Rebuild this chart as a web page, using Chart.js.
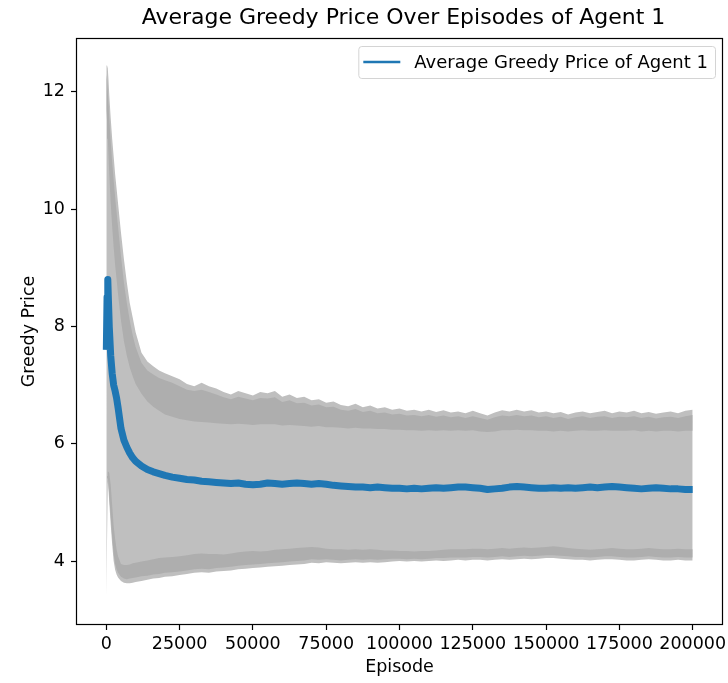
<!DOCTYPE html>
<html>
<head>
<meta charset="utf-8">
<title>Average Greedy Price Over Episodes of Agent 1</title>
<script src="https://cdn.jsdelivr.net/npm/chart.js@4.4.1/dist/chart.umd.min.js"></script>
<style>
  html, body { margin: 0; padding: 0; background: #fff; }
  canvas { display: block; }
</style>
</head>
<body>
<canvas id="priceChart" width="728" height="683"></canvas>
<script>
const episodes = [
  0, 250, 500, 750, 1000, 1500, 2000, 2500, 3000, 3500, 4000, 5000, 6000, 7000, 8000, 9000, 10000, 12000, 14000, 16000, 18000, 20000,
  22500, 25000, 27500, 30000, 32500, 35000, 37500, 40000,
  42500, 45000, 47500, 50000, 52500, 55000, 57500, 60000,
  62500, 65000, 67500, 70000, 72500, 75000, 77500, 80000,
  82500, 85000, 87500, 90000, 92500, 95000, 97500, 100000,
  102500, 105000, 107500, 110000, 112500, 115000, 117500, 120000,
  122500, 125000, 127500, 130000, 132500, 135000, 137500, 140000,
  142500, 145000, 147500, 150000, 152500, 155000, 157500, 160000,
  162500, 165000, 167500, 170000, 172500, 175000, 177500, 180000,
  182500, 185000, 187500, 190000, 192500, 195000, 197500, 200000
];

// average greedy price (blue line)
const meanPrice = [
  7.6, 8.5, 8.8, 8.4, 8.0, 7.5, 7.2, 7.0, 6.9, 6.78, 6.62, 6.26, 6.06, 5.94, 5.84, 5.76, 5.7, 5.62, 5.56, 5.52, 5.49, 5.46,
  5.43, 5.41, 5.39, 5.38, 5.36, 5.35, 5.34, 5.33,
  5.32, 5.33, 5.31, 5.30, 5.31, 5.33, 5.32, 5.31,
  5.32, 5.33, 5.32, 5.31, 5.32, 5.31, 5.29, 5.28,
  5.27, 5.26, 5.26, 5.25, 5.26, 5.25, 5.24, 5.24,
  5.23, 5.24, 5.23, 5.24, 5.25, 5.24, 5.25, 5.26,
  5.26, 5.25, 5.24, 5.22, 5.23, 5.24, 5.26, 5.27,
  5.26, 5.25, 5.24, 5.24, 5.25, 5.24, 5.25, 5.24,
  5.25, 5.26, 5.25, 5.26, 5.27, 5.26, 5.25, 5.24,
  5.23, 5.24, 5.25, 5.24, 5.23, 5.23, 5.22, 5.22
];

// shaded spread: outer edge, dark edge stripe, inner edge
const upperOuter = [
  12.45, 12.45, 12.4, 12.2, 11.95, 11.55, 11.2, 10.9, 10.6, 10.35, 10.1, 9.6, 9.15, 8.75, 8.4, 8.15, 7.9, 7.55, 7.4, 7.32, 7.25, 7.2,
  7.15, 7.1, 7.02, 6.98, 7.04, 6.98, 6.94, 6.88,
  6.84, 6.9, 6.86, 6.82, 6.88, 6.86, 6.9, 6.8,
  6.84, 6.78, 6.8, 6.74, 6.76, 6.7, 6.72, 6.66,
  6.64, 6.68, 6.62, 6.65, 6.6, 6.62, 6.58, 6.6,
  6.56, 6.58, 6.55, 6.58, 6.54, 6.57, 6.53, 6.55,
  6.52, 6.56, 6.52, 6.48, 6.53, 6.57, 6.55, 6.58,
  6.55, 6.57, 6.53, 6.55, 6.52, 6.54, 6.5, 6.53,
  6.55, 6.52, 6.54, 6.56, 6.52, 6.55, 6.53, 6.56,
  6.52, 6.54, 6.51, 6.53, 6.55, 6.52, 6.56, 6.58
];
const upperDarkTop = [
  12.3, 12.2, 12.0, 11.8, 11.55, 11.15, 10.8, 10.5, 10.2, 9.95, 9.7, 9.2, 8.75, 8.4, 8.1, 7.85, 7.65, 7.38, 7.25, 7.18, 7.12, 7.08,
  7.04, 6.98, 6.92, 6.9, 6.92, 6.88, 6.84, 6.79,
  6.76, 6.8, 6.77, 6.74, 6.78, 6.77, 6.79, 6.71,
  6.74, 6.69, 6.7, 6.65, 6.67, 6.62, 6.63, 6.58,
  6.56, 6.59, 6.54, 6.56, 6.52, 6.53, 6.5, 6.51,
  6.48, 6.49, 6.47, 6.49, 6.46, 6.48, 6.45, 6.47,
  6.44, 6.47, 6.44, 6.41, 6.45, 6.48, 6.47, 6.49,
  6.47, 6.48, 6.45, 6.47, 6.44, 6.46, 6.42, 6.45,
  6.47, 6.44, 6.46, 6.47, 6.44, 6.46, 6.45, 6.47,
  6.44, 6.46, 6.43, 6.45, 6.46, 6.44, 6.47, 6.49
];
const upperDarkBottom = [
  11.7, 11.5, 11.2, 10.9, 10.6, 10.1, 9.7, 9.35, 9.05, 8.8, 8.55, 8.1, 7.75, 7.5, 7.3, 7.15, 7.02, 6.85, 6.72, 6.63, 6.56, 6.5,
  6.46, 6.42, 6.4, 6.38, 6.37, 6.36, 6.35, 6.34,
  6.33, 6.34, 6.33, 6.32, 6.33, 6.33, 6.33, 6.31,
  6.32, 6.31, 6.3, 6.29, 6.3, 6.28, 6.28, 6.27,
  6.26, 6.27, 6.26, 6.26, 6.25, 6.25, 6.24, 6.24,
  6.23, 6.23, 6.22, 6.23, 6.22, 6.23, 6.22, 6.23,
  6.22, 6.23, 6.21, 6.2, 6.21, 6.23, 6.23, 6.24,
  6.23, 6.23, 6.22, 6.22, 6.21, 6.22, 6.21, 6.22,
  6.23, 6.22, 6.22, 6.23, 6.22, 6.22, 6.22, 6.23,
  6.21, 6.22, 6.21, 6.22, 6.22, 6.21, 6.22, 6.22
];
const lowerDarkTop = [
  3.5, 5.45, 5.52, 5.52, 5.5, 5.3, 4.95, 4.6, 4.38, 4.2, 4.08, 3.95, 3.93, 3.93, 3.94, 3.96, 3.97, 3.99, 4.01, 4.03, 4.05, 4.06,
  4.07, 4.08, 4.1, 4.12, 4.13, 4.12, 4.12, 4.11,
  4.13, 4.15, 4.16, 4.17, 4.16, 4.17, 4.19, 4.2,
  4.21, 4.22, 4.23, 4.24, 4.23, 4.21, 4.2, 4.2,
  4.19, 4.2, 4.19, 4.2, 4.19, 4.18, 4.18, 4.17,
  4.17, 4.16, 4.17, 4.17, 4.18, 4.19, 4.2, 4.2,
  4.2, 4.21, 4.21, 4.2, 4.21, 4.22, 4.21, 4.22,
  4.23, 4.22, 4.23, 4.24, 4.25, 4.24, 4.22, 4.21,
  4.2, 4.19, 4.2, 4.21, 4.22, 4.21, 4.2, 4.2,
  4.21, 4.22, 4.21, 4.2, 4.2, 4.21, 4.2, 4.2
];
const lowerDarkBottom = [
  3.45, 5.4, 5.42, 5.3, 5.1, 4.75, 4.4, 4.12, 3.95, 3.86, 3.8, 3.73, 3.7, 3.69, 3.7, 3.71, 3.72, 3.74, 3.75, 3.77, 3.78, 3.8,
  3.81, 3.82, 3.84, 3.86, 3.87, 3.86, 3.88, 3.89,
  3.9, 3.92, 3.93, 3.94, 3.95, 3.96, 3.97, 3.98,
  3.99, 4.0, 4.01, 4.03, 4.02, 4.03, 4.02, 4.01,
  4.02, 4.03, 4.02, 4.03, 4.02, 4.03, 4.04, 4.04,
  4.03, 4.04, 4.03, 4.04, 4.05, 4.05, 4.06, 4.06,
  4.06, 4.07, 4.07, 4.06, 4.07, 4.08, 4.07, 4.08,
  4.09, 4.08, 4.09, 4.1, 4.1, 4.09, 4.08, 4.07,
  4.07, 4.06, 4.07, 4.08, 4.08, 4.07, 4.06, 4.06,
  4.07, 4.08, 4.07, 4.06, 4.06, 4.07, 4.06, 4.06
];
const lowerOuter = [
  3.39, 5.35, 5.35, 5.2, 5.0, 4.62, 4.28, 4.0, 3.85, 3.77, 3.72, 3.66, 3.63, 3.62, 3.62, 3.63, 3.64, 3.66, 3.68, 3.7, 3.71, 3.73,
  3.74, 3.76, 3.78, 3.8, 3.81, 3.8, 3.82, 3.83,
  3.84, 3.86, 3.87, 3.88, 3.89, 3.9, 3.91, 3.92,
  3.93, 3.94, 3.95, 3.97, 3.96, 3.98, 3.97, 3.96,
  3.97, 3.98, 3.97, 3.98, 3.97, 3.98, 3.99, 4.0,
  3.99, 4.0, 3.99, 4.0, 4.01, 4.0, 4.01, 4.02,
  4.01, 4.02, 4.02, 4.01, 4.02, 4.03, 4.02, 4.03,
  4.04, 4.03, 4.04, 4.05, 4.05, 4.04, 4.03, 4.02,
  4.02, 4.01, 4.02, 4.03, 4.03, 4.02, 4.01, 4.01,
  4.02, 4.03, 4.02, 4.01, 4.01, 4.02, 4.01, 4.01
];

const xTicks = [0, 25000, 50000, 75000, 100000, 125000, 150000, 175000, 200000];
const yTicks = [4, 6, 8, 10, 12];

const FONT = 'DejaVu Sans';
const BLUE = '#1f77b4';
const BAND = '#bfbfbf';
const DARK = '#aeaeae';
const TITLE = 'Average Greedy Price Over Episodes of Agent 1';
const SERIES_LABEL = 'Average Greedy Price of Agent 1';

function toPoints(values) {
  return episodes.map((ep, i) => ({ x: ep, y: values[i] }));
}

function bandSet(values, fill, order) {
  return {
    data: toPoints(values),
    borderWidth: 0,
    borderColor: 'transparent',
    pointRadius: 0,
    fill: fill,
    order: order
  };
}

// title, frame and matplotlib-style legend box
const decorPlugin = {
  id: 'decor',
  afterDatasetsDraw(chart) {
    const ctx = chart.ctx;
    const a = chart.chartArea;
    ctx.save();
    ctx.strokeStyle = '#000';
    ctx.lineWidth = 1.2;
    ctx.strokeRect(a.left - 0.5, a.top - 0.5, a.right - a.left + 1, a.bottom - a.top + 1);

    ctx.font = '18px "' + FONT + '"';
    const tw = ctx.measureText(SERIES_LABEL).width;
    const boxRight = a.right - 7;
    const textX = boxRight - 7 - tw;
    const lineEnd = textX - 14;
    const lineStart = lineEnd - 37;
    const boxLeft = lineStart - 5;
    const boxTop = a.top + 7, boxBottom = a.top + 39;
    const cy = (boxTop + boxBottom) / 2;

    ctx.beginPath();
    ctx.roundRect(boxLeft + 0.5, boxTop + 0.5, boxRight - boxLeft, boxBottom - boxTop, 3);
    ctx.fillStyle = 'rgba(255,255,255,0.8)';
    ctx.fill();
    ctx.strokeStyle = '#d4d4d4';
    ctx.lineWidth = 1;
    ctx.stroke();

    ctx.beginPath();
    ctx.moveTo(lineStart, cy);
    ctx.lineTo(lineEnd, cy);
    ctx.strokeStyle = BLUE;
    ctx.lineWidth = 2.7;
    ctx.stroke();

    ctx.fillStyle = '#000';
    ctx.textAlign = 'left';
    ctx.textBaseline = 'middle';
    ctx.fillText(SERIES_LABEL, textX, cy + 1);

    ctx.font = '22px "' + FONT + '"';
    ctx.textAlign = 'center';
    ctx.fillText(TITLE, (a.left + a.right) / 2 + 4, 18);
    ctx.restore();
  }
};

function renderPriceChart() {
  const ctx = document.getElementById('priceChart').getContext('2d');
  const tickFont = { family: FONT, size: 17.5 };

  new Chart(ctx, {
    type: 'line',
    data: {
      datasets: [
        {
          label: SERIES_LABEL,
          data: toPoints(meanPrice),
          borderColor: BLUE,
          borderWidth: 7,
          borderJoinStyle: 'round',
          pointRadius: 0,
          fill: false,
          order: 1
        },
        bandSet(upperOuter, { target: 6, above: BAND, below: BAND }, 3),
        bandSet(upperDarkTop, { target: 3, above: DARK, below: DARK }, 2),
        bandSet(upperDarkBottom, false, 2),
        bandSet(lowerDarkTop, { target: 5, above: DARK, below: DARK }, 2),
        bandSet(lowerDarkBottom, false, 2),
        bandSet(lowerOuter, false, 3)
      ]
    },
    options: {
      responsive: false,
      animation: false,
      devicePixelRatio: 1,
      layout: { padding: { left: 0, right: 6, top: 39, bottom: 0 } },
      elements: { line: { tension: 0 } },
      plugins: {
        legend: { display: false },
        tooltip: { enabled: false },
        title: { display: false }
      },
      scales: {
        x: {
          type: 'linear',
          min: -10000,
          max: 210000,
          afterBuildTicks: s => { s.ticks = xTicks.map(v => ({ value: v })); },
          afterFit: s => { s.height = 59; s.paddingLeft = 0; s.paddingRight = 0; },
          border: { display: false },
          grid: { drawOnChartArea: false, drawTicks: true, tickLength: 6, tickColor: '#000', tickWidth: 1.2 },
          ticks: { color: '#000', font: tickFont, padding: 4, maxRotation: 0, autoSkip: false, callback: v => String(v) },
          title: { display: true, text: 'Episode', color: '#000', font: tickFont, padding: { top: 0, bottom: 5 } }
        },
        y: {
          type: 'linear',
          min: 2.926,
          max: 12.9,
          afterBuildTicks: s => { s.ticks = yTicks.map(v => ({ value: v })); },
          afterFit: s => { s.width = 77; s.paddingTop = 0; s.paddingBottom = 0; },
          border: { display: false },
          grid: { drawOnChartArea: false, drawTicks: true, tickLength: 6, tickColor: '#000', tickWidth: 1.2 },
          ticks: { color: '#000', font: tickFont, padding: 6, callback: v => String(v) },
          title: { display: true, text: 'Greedy Price', color: '#000', font: tickFont, padding: { top: 19, bottom: 0 } }
        }
      }
    },
    plugins: [decorPlugin]
  });
}

renderPriceChart();
</script>
</body>
</html>
